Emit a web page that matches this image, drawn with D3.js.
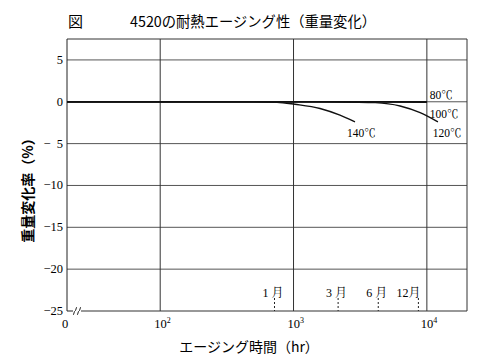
<!DOCTYPE html>
<html><head><meta charset="utf-8">
<script src="https://cdn.jsdelivr.net/npm/d3@7/dist/d3.min.js"></script>
<style>body{margin:0;background:#fff}svg{display:block}</style>
</head><body><svg id="c" width="500" height="363"></svg>
<script>
// ---- data ----
const titleText = "4520の耐熱エージング性（重量変化）";
const yTicks = [5, 0, -5, -10, -15, -20, -25];
const xTicks = [100, 1000, 10000];
const xTickExp = ["2", "3", "4"];
const monthLabels = ["1 月", "3 月", "6 月", "12月"];
const monthHours = [720, 2160, 4320, 8640];
const seriesNames = ["80℃", "100℃", "120℃", "140℃"];
const hours80 = [20, 100, 1000, 10000];
const values80 = [0, 0, 0, 0];
const hours100 = [20, 100, 1000, 10000];
const values100 = [0, 0, 0, -0.05];
const hours120 = [20, 100, 1000, 3000, 4100, 6300, 8900, 12100];
const values120 = [0, 0, 0, -0.05, -0.1, -0.5, -1.3, -2.4];
const hours140 = [20, 100, 500, 752, 1026, 1580, 2230, 2890];
const values140 = [0, 0, 0, -0.05, -0.3, -0.8, -1.6, -2.4];

const svg = d3.select("#c");
const L = 67, R = 467, T = 39, B = 311;
const x = d3.scaleLog().domain([20, 20000]).range([L, R]);
const y = d3.scaleLinear().domain([-25, 7.5]).range([B, T]);
const serif = "'Liberation Serif','Noto Serif CJK JP','Noto Sans CJK JP',serif";
const sans = "'Noto Sans CJK JP',sans-serif";

// title
svg.append("text").attr("x", 68).attr("y", 27).attr("font-family", sans).attr("font-size", 15).text("図");
svg.append("text").attr("x", 130).attr("y", 27).attr("font-family", sans).attr("font-size", 14.5)
  .attr("textLength", 246).attr("lengthAdjust", "spacingAndGlyphs").text(titleText);

// grid
const g = svg.append("g");
g.selectAll("line.h").data(yTicks.filter(d => d > -25)).join("line")
  .attr("x1", L).attr("x2", R).attr("y1", d => y(d)).attr("y2", d => y(d))
  .attr("stroke", "#555").attr("stroke-width", 1);
g.selectAll("line.v").data(xTicks).join("line")
  .attr("x1", d => x(d)).attr("x2", d => x(d)).attr("y1", T).attr("y2", B)
  .attr("stroke", "#333").attr("stroke-width", 1);
// frame
g.append("line").attr("x1", L).attr("x2", R).attr("y1", T).attr("y2", T).attr("stroke", "#333");
g.append("line").attr("x1", R).attr("x2", R).attr("y1", T).attr("y2", B).attr("stroke", "#333");
g.append("line").attr("x1", L).attr("x2", L).attr("y1", T).attr("y2", B).attr("stroke", "#222");
g.append("line").attr("x1", L).attr("x2", L + 6).attr("y1", B).attr("y2", B).attr("stroke", "#222");
g.append("line").attr("x1", L + 14).attr("x2", R).attr("y1", B).attr("y2", B).attr("stroke", "#333").attr("stroke-width", 1.2);
// break marks
[L + 8, L + 12].forEach(bx => {
  g.append("path").attr("d", `M${bx - 2},${B + 4} C${bx - 1},${B + 4} ${bx - 1},${B} ${bx},${B} S${bx + 1},${B - 4} ${bx + 2},${B - 4}`)
    .attr("fill", "none").attr("stroke", "#222").attr("stroke-width", 1);
});

// y tick labels
const fmtY = d => d < 0 ? "−" + (Math.abs(d) < 10 ? "\u2007" : "") + Math.abs(d) : String(d);
svg.append("g").selectAll("text").data(yTicks).join("text")
  .attr("x", L - 4).attr("y", d => y(d) + 4).attr("text-anchor", "end")
  .attr("font-family", serif).attr("font-size", 12.5).text(fmtY);

// x tick labels
svg.append("text").attr("x", L - 2).attr("y", 328).attr("text-anchor", "middle")
  .attr("font-family", serif).attr("font-size", 12.5).text("0");
const xt = svg.append("g").selectAll("text").data(xTicks).join("text")
  .attr("x", d => x(d) - 6).attr("y", 328)
  .attr("font-family", serif).attr("font-size", 12.5);
xt.append("tspan").text("10");
xt.append("tspan").attr("dy", -5).attr("font-size", 8).text((d, i) => xTickExp[i]);

// month markers
const mg = svg.append("g");
mg.selectAll("line").data(monthHours).join("line")
  .attr("x1", d => x(d)).attr("x2", d => x(d)).attr("y1", 298).attr("y2", B)
  .attr("stroke", "#222").attr("stroke-dasharray", "2,2");
mg.selectAll("text").data(monthHours).join("text")
  .attr("x", (d, i) => x(d) + (i === 3 ? 2 : 9)).attr("y", 297).attr("text-anchor", "end")
  .attr("font-family", serif).attr("font-size", 12).text((d, i) => monthLabels[i]);

// curves
const line = d3.line().x(d => x(d[0])).y(d => y(d[1])).curve(d3.curveMonotoneX);
const sets = [[hours80, values80], [hours100, values100], [hours120, values120], [hours140, values140]];
svg.append("g").selectAll("path").data(sets).join("path")
  .attr("d", s => line(s[0].map((h, i) => [h, s[1][i]])))
  .attr("fill", "none").attr("stroke", "#111").attr("stroke-width", 1.4);

// series labels
const lab = svg.append("g").attr("font-family", serif).attr("font-size", 11.5);
lab.append("text").attr("x", x(10000) + 3).attr("y", y(0) - 3).text(seriesNames[0]);
lab.append("text").attr("x", x(10000) + 3).attr("y", y(0) + 16).text(seriesNames[1]);
lab.append("text").attr("x", x(10000) + 6).attr("y", y(0) + 35).text(seriesNames[2]);
lab.append("text").attr("x", x(2890) - 8).attr("y", y(-2.4) + 15).text(seriesNames[3]);

// axis titles
svg.append("text").attr("x", 249).attr("y", 352).attr("text-anchor", "middle")
  .attr("font-family", sans).attr("font-size", 14).text("エージング時間（hr）");
svg.append("text").attr("transform", "translate(33,187) rotate(-90)").attr("text-anchor", "middle")
  .attr("font-family", sans).attr("font-size", 14).attr("font-weight", "bold").text("重量変化率（%）");
</script></body></html>
